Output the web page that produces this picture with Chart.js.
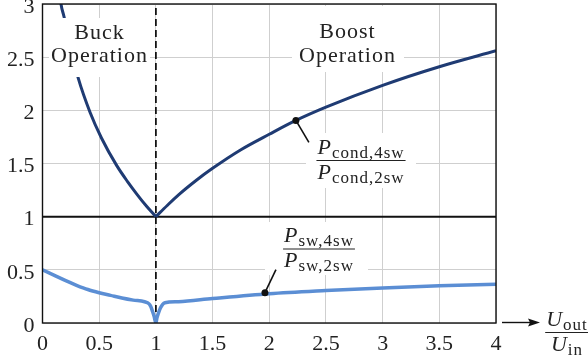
<!DOCTYPE html>
<html>
<head>
<meta charset="utf-8">
<script src="https://cdn.jsdelivr.net/npm/chart.js@4"></script>
<style>
  html, body { margin: 0; padding: 0; background: #fff; }
</style>
</head>
<body>
<canvas id="chart" width="588" height="361"></canvas>
<script>
// tick labels
const xTickValues = [0, 0.5, 1, 1.5, 2, 2.5, 3, 3.5, 4];
const yTickValues = [0, 0.5, 1, 1.5, 2, 2.5, 3];

// P_cond,4sw / P_cond,2sw  (buck side and boost side)
const condBuckX = [0.12, 0.14, 0.163, 0.19, 0.25, 0.316, 0.42, 0.52, 0.655, 0.75, 0.83, 0.92, 1.0];
const condBuckY = [3.38, 3.21, 3.0, 2.88, 2.58, 2.30, 1.98, 1.74, 1.48, 1.33, 1.215, 1.095, 1.0];
const condBoostX = [1.0, 1.1, 1.2, 1.36, 1.5, 1.75, 2.0, 2.235, 2.5, 3.0, 3.5, 4.0];
const condBoostY = [1.0, 1.105, 1.205, 1.345, 1.455, 1.63, 1.775, 1.905, 2.03, 2.235, 2.41, 2.56];

// P_sw,4sw / P_sw,2sw
const swX = [0, 0.1, 0.2, 0.3, 0.4, 0.5, 0.6, 0.7, 0.8, 0.9, 0.94, 0.955, 0.97, 0.985, 1.0,
             1.01, 1.025, 1.04, 1.06, 1.08, 1.2, 1.5, 2.0, 2.5, 3.0, 3.5, 4.0];
const swY = [0.50, 0.45, 0.40, 0.355, 0.315, 0.285, 0.26, 0.235, 0.215, 0.20, 0.18, 0.155, 0.11, 0.06, 0.0,
             0.05, 0.10, 0.14, 0.175, 0.19, 0.20, 0.23, 0.275, 0.305, 0.33, 0.35, 0.365];

// reference lines and labelled points
const unityX = [0, 4];
const unityY = [1, 1];
const dividerX = [1, 1];
const dividerY = [0, 3];
const markerX = [2.235, 1.962];
const markerY = [1.905, 0.285];

const DARK = "#1f3b73";
const LIGHT = "#5b8ed4";
const SERIF = "'Liberation Serif', 'DejaVu Serif', serif";

const pts = (xs, ys) => xs.map((x, i) => ({ x: x, y: ys[i] }));

function symWidth(ctx, main, sub) {
  ctx.font = "italic 22px " + SERIF;
  const a = ctx.measureText(main).width;
  ctx.font = "17px " + SERIF;
  ctx.letterSpacing = "1px";
  const b = ctx.measureText(sub).width;
  ctx.letterSpacing = "0px";
  return a + 1 + b;
}

function drawSym(ctx, x, base, main, sub) {
  ctx.font = "italic 22px " + SERIF;
  ctx.fillText(main, x, base);
  const a = ctx.measureText(main).width;
  ctx.font = "17px " + SERIF;
  ctx.letterSpacing = "1px";
  ctx.fillText(sub, x + a + 1, base + 4);
  ctx.letterSpacing = "0px";
}

function drawFrac(ctx, cx, barY, num, den) {
  const wn = symWidth(ctx, num[0], num[1]);
  const wd = symWidth(ctx, den[0], den[1]);
  const w = Math.max(wn, wd) + 2;
  ctx.strokeStyle = "#222";
  ctx.lineWidth = 1.2;
  ctx.beginPath();
  ctx.moveTo(cx - w / 2, barY);
  ctx.lineTo(cx + w / 2, barY);
  ctx.stroke();
  drawSym(ctx, cx - wn / 2, barY - 7, num[0], num[1]);
  drawSym(ctx, cx - wd / 2, barY + 18, den[0], den[1]);
}

function centerText(ctx, text, cx, base) {
  ctx.font = "22px " + SERIF;
  ctx.letterSpacing = "1px";
  const w = ctx.measureText(text).width;
  ctx.fillText(text, cx - w / 2, base);
  ctx.letterSpacing = "0px";
}

function leader(ctx, x0, y0, x1, y1) {
  ctx.strokeStyle = "#111";
  ctx.lineWidth = 1.6;
  ctx.beginPath();
  ctx.moveTo(x0, y0);
  ctx.lineTo(x1, y1);
  ctx.stroke();
}

const decorations = {
  id: "decorations",
  beforeDraw(chart) {
    const ctx = chart.ctx;
    ctx.save();
    ctx.fillStyle = "#fff";
    ctx.fillRect(0, 0, chart.width, chart.height);
    ctx.restore();
  },
  afterDatasetsDraw(chart) {
    const ctx = chart.ctx;
    const a = chart.chartArea;
    const xs = chart.scales.x, ys = chart.scales.y;
    ctx.save();

    // frame
    ctx.strokeStyle = "#111";
    ctx.lineWidth = 1.4;
    ctx.strokeRect(a.left, a.top, a.right - a.left, a.bottom - a.top);

    // white label backgrounds
    ctx.fillStyle = "#fff";
    ctx.fillRect(49, 18, 101, 59);
    ctx.fillRect(292, 6, 112, 66);
    ctx.fillRect(306, 133, 110, 55);
    ctx.fillRect(265, 222, 103, 53);

    ctx.fillStyle = "#222";
    ctx.textAlign = "left";
    ctx.textBaseline = "alphabetic";
    centerText(ctx, "Buck", 99.5, 39);
    centerText(ctx, "Operation", 99.5, 62);
    centerText(ctx, "Boost", 347.5, 38);
    centerText(ctx, "Operation", 347.5, 62);

    drawFrac(ctx, 361, 160.5, ["P", "cond,4sw"], ["P", "cond,2sw"]);
    drawFrac(ctx, 319, 249, ["P", "sw,4sw"], ["P", "sw,2sw"]);

    // leader lines from the marked points
    const c0x = xs.getPixelForValue(markerX[0]), c0y = ys.getPixelForValue(markerY[0]);
    const c1x = xs.getPixelForValue(markerX[1]), c1y = ys.getPixelForValue(markerY[1]);
    leader(ctx, c0x, c0y, c0x + 13, c0y + 22);
    leader(ctx, c1x, c1y, c1x + 11, c1y - 23);

    // axis arrow and quantity
    const ay = a.bottom - 0.5;
    ctx.strokeStyle = "#111";
    ctx.lineWidth = 1.4;
    ctx.beginPath();
    ctx.moveTo(502, ay);
    ctx.lineTo(532, ay);
    ctx.stroke();
    ctx.fillStyle = "#111";
    ctx.beginPath();
    ctx.moveTo(540, ay);
    ctx.lineTo(528, ay - 4);
    ctx.lineTo(530, ay);
    ctx.lineTo(528, ay + 4);
    ctx.closePath();
    ctx.fill();
    ctx.fillStyle = "#222";
    drawFrac(ctx, 567, 332.5, ["U", "out"], ["U", "in"]);

    ctx.restore();
  }
};

const tickFont = { family: SERIF, size: 22 };

new Chart(document.getElementById("chart"), {
  type: "scatter",
  data: {
    datasets: [
      {
        data: pts(markerX, markerY),
        pointRadius: 3.5,
        pointBackgroundColor: "#111",
        pointBorderWidth: 0,
        showLine: false,
        order: 0
      },
      {
        data: pts(condBuckX, condBuckY),
        showLine: true,
        borderColor: DARK,
        borderWidth: 3,
        pointRadius: 0,
        cubicInterpolationMode: "monotone",
        order: 1
      },
      {
        data: pts(condBoostX, condBoostY),
        showLine: true,
        borderColor: DARK,
        borderWidth: 3,
        pointRadius: 0,
        cubicInterpolationMode: "monotone",
        order: 1
      },
      {
        data: pts(swX, swY),
        showLine: true,
        borderColor: LIGHT,
        borderWidth: 3.5,
        pointRadius: 0,
        cubicInterpolationMode: "monotone",
        order: 1
      },
      {
        data: pts(unityX, unityY),
        showLine: true,
        borderColor: "#111",
        borderWidth: 2,
        pointRadius: 0,
        order: 2
      },
      {
        data: pts(dividerX, dividerY),
        showLine: true,
        borderColor: "#111",
        borderWidth: 1.8,
        borderDash: [7, 4],
        pointRadius: 0,
        order: 3
      }
    ]
  },
  options: {
    responsive: false,
    animation: false,
    events: [],
    layout: { padding: { left: 0, top: 4, right: 92, bottom: 0 } },
    plugins: {
      legend: { display: false },
      tooltip: { enabled: false }
    },
    scales: {
      x: {
        type: "linear",
        min: 0,
        max: 4,
        afterBuildTicks: (s) => { s.ticks = xTickValues.map((v) => ({ value: v })); },
        afterFit: (s) => { s.height = 38; s.paddingLeft = 0; s.paddingRight = 0; },
        grid: { color: "#cfcfcf", lineWidth: 1, drawTicks: false },
        border: { display: false },
        ticks: {
          padding: 8,
          color: "#222",
          font: tickFont,
          maxRotation: 0,
          autoSkip: false,
          callback: (v) => String(v)
        }
      },
      y: {
        type: "linear",
        min: 0,
        max: 3,
        afterBuildTicks: (s) => { s.ticks = yTickValues.map((v) => ({ value: v })); },
        afterFit: (s) => { s.width = 42.5; s.paddingTop = 0; s.paddingBottom = 0; },
        grid: { color: "#cfcfcf", lineWidth: 1, drawTicks: false },
        border: { display: false },
        ticks: {
          padding: 8,
          color: "#222",
          font: tickFont,
          labelOffset: 3,
          autoSkip: false,
          callback: (v) => String(v)
        }
      }
    }
  },
  plugins: [decorations]
});
</script>
</body>
</html>
